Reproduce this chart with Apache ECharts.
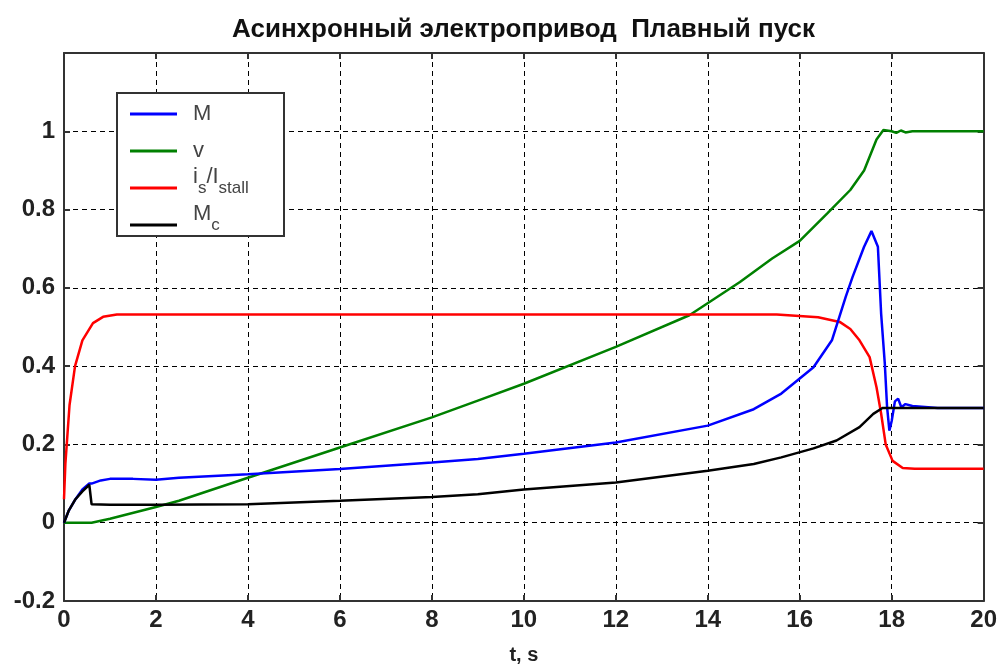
<!DOCTYPE html>
<html>
<head>
<meta charset="utf-8">
<script src="https://cdn.jsdelivr.net/npm/echarts@6/dist/echarts.min.js"></script>
<style>html,body{margin:0;padding:0;background:#fff}#c{width:1000px;height:670px}</style>
</head>
<body>
<div id="c"></div>
<script>
// ---- data ----
const legendNames = ['M', 'v', 'is/Istall', 'Mc'];
const xTicks = [0, 2, 4, 6, 8, 10, 12, 14, 16, 18, 20];

const tM = [0, 0.1, 0.25, 0.4, 0.55, 0.6, 0.8, 1.0, 1.5, 2.0, 2.5, 4.0, 6.0, 8.0, 9.0, 10.0, 12.0, 14.0, 15.0, 15.6, 16.3, 16.7, 17.0, 17.15, 17.4, 17.56, 17.7, 17.77, 17.85, 17.9, 17.95, 18.0, 18.07, 18.14, 18.21, 18.3, 18.45, 19, 20];
const vM = [0, 0.03, 0.06, 0.085, 0.1, 0.1, 0.108, 0.112, 0.112, 0.11, 0.115, 0.124, 0.137, 0.154, 0.163, 0.176, 0.205, 0.248, 0.29, 0.33, 0.397, 0.466, 0.577, 0.628, 0.705, 0.745, 0.705, 0.535, 0.407, 0.295, 0.235, 0.26, 0.31, 0.317, 0.295, 0.303, 0.298, 0.293, 0.293];

const tV = [0, 0.6, 1.0, 2.0, 2.5, 4.0, 6.0, 8.0, 9.0, 10.0, 12.0, 13.6, 14.7, 15.4, 16.0, 16.6, 17.1, 17.4, 17.67, 17.82, 18.0, 18.1, 18.2, 18.3, 18.45, 20];
const vV = [0, 0, 0.01, 0.04, 0.056, 0.115, 0.192, 0.269, 0.312, 0.355, 0.449, 0.53, 0.615, 0.675, 0.72, 0.79, 0.85, 0.9, 0.979, 1.003, 1.0, 0.996, 1.002, 0.997, 1.0, 1.0];

const tI = [0, 0.03, 0.06, 0.12, 0.24, 0.4, 0.63, 0.85, 1.15, 1.5, 4, 10, 15.5, 16.4, 16.87, 17.1, 17.3, 17.52, 17.67, 17.77, 17.87, 18.02, 18.24, 18.5, 20];
const vI = [0.06, 0.15, 0.2, 0.3, 0.4, 0.466, 0.51, 0.526, 0.532, 0.532, 0.532, 0.532, 0.532, 0.525, 0.513, 0.495, 0.466, 0.423, 0.346, 0.279, 0.2, 0.158, 0.14, 0.138, 0.138];

const tMc = [0, 0.1, 0.25, 0.4, 0.55, 0.6, 1.0, 2.0, 4.0, 6.0, 8.0, 9.0, 10.0, 12.0, 14.0, 15.0, 15.6, 16.3, 16.8, 17.3, 17.6, 17.8, 18.0, 20];
const vMc = [0, 0.03, 0.06, 0.08, 0.097, 0.047, 0.046, 0.046, 0.047, 0.056, 0.066, 0.073, 0.085, 0.103, 0.133, 0.15, 0.167, 0.19, 0.21, 0.244, 0.278, 0.293, 0.293, 0.293];

function zip(t, v) { return t.map((x, i) => [x, v[i]]); }

const chart = echarts.init(document.getElementById('c'), null, {renderer: 'canvas'});
const FF = 'Liberation Sans, Arial, sans-serif';
const labelFont = {fontSize: 24, fontWeight: 'bold', color: '#222', fontFamily: FF};
const gridLine = {show: true, lineStyle: {color: '#000', type: [5, 4], width: 1}};
const axLine = {show: true, onZero: false, lineStyle: {color: '#333', width: 2}};
const tick = {show: true, inside: true, length: 6, lineStyle: {color: '#333', width: 2}};

function mkSeries(name, t, v, color) {
  return {name: name, type: 'line', data: zip(t, v), symbol: 'none', showSymbol: false,
    lineStyle: {color: color, width: 2.5}, itemStyle: {color: color}, animation: false, z: 3};
}

const richStyle = {
  a: {fontSize: 22, color: '#444', lineHeight: 4, verticalAlign: 'top', fontFamily: FF},
  b: {fontSize: 17, color: '#444', lineHeight: 44, verticalAlign: 'middle', fontFamily: FF},
  c: {fontSize: 22, color: '#444', lineHeight: 20, verticalAlign: 'middle', fontFamily: FF}
};
function legendFmt(name) {
  if (name === 'is/Istall') return '{a|i}{b|s}{a|/I}{b|stall}';
  if (name === 'Mc') return '{a|M}{b|c}';
  return '{c|' + name + '}';
}
const legendTops = [103, 140, 166, 203];
const legends = legendNames.map((n, i) => ({
  data: [n], orient: 'vertical', left: 130, top: legendTops[i], padding: 0,
  icon: 'rect', itemWidth: 47, itemHeight: 3, z: 60, selectedMode: false,
  formatter: legendFmt,
  textStyle: {color: '#444', fontFamily: FF, fontSize: 22, padding: [0, 0, 0, 11], rich: richStyle}
}));

chart.setOption({
  animation: false,
  backgroundColor: '#fff',
  title: {text: 'Асинхронный электропривод  Плавный пуск', left: 227, top: 12,
    textStyle: {fontSize: 26, fontWeight: 'bold', color: '#111', fontFamily: 'Liberation Sans Narrow, Liberation Sans, Arial, sans-serif'}},
  grid: {left: 64, right: 15, top: 53, bottom: 68, show: false},
  xAxis: [
    {type: 'value', min: 0, max: 20, interval: 2, axisLine: axLine, axisTick: tick,
      axisLabel: Object.assign({margin: 7}, labelFont), splitLine: gridLine,
      name: 't, s', nameLocation: 'middle', nameGap: 44,
      nameTextStyle: {fontSize: 20, fontWeight: 'bold', color: '#222', fontFamily: FF}},
    {type: 'value', min: 0, max: 20, interval: 2, position: 'top', axisLine: axLine, axisTick: tick,
      axisLabel: {show: false}, splitLine: {show: false}}
  ],
  yAxis: [
    {type: 'value', min: -0.2, max: 1.2, interval: 0.2, axisLine: axLine, axisTick: tick,
      axisLabel: Object.assign({margin: 9, formatter: function (v) {
        if (Math.abs(v - 1.2) < 1e-6) return '';
        return String(parseFloat(v.toFixed(1)));
      }}, labelFont), splitLine: gridLine},
    {type: 'value', min: -0.2, max: 1.2, interval: 0.2, position: 'right', axisLine: axLine, axisTick: tick,
      axisLabel: {show: false}, splitLine: {show: false}}
  ],
  graphic: [{type: 'rect', shape: {x: 117, y: 93, width: 167, height: 143},
    style: {fill: '#fff', stroke: '#333', lineWidth: 2}, z: 50}],
  legend: legends,
  series: [
    mkSeries('v', tV, vV, '#008000'),
    mkSeries('is/Istall', tI, vI, '#ff0000'),
    mkSeries('M', tM, vM, '#0000ff'),
    mkSeries('Mc', tMc, vMc, '#000000')
  ]
});
</script>
</body>
</html>
